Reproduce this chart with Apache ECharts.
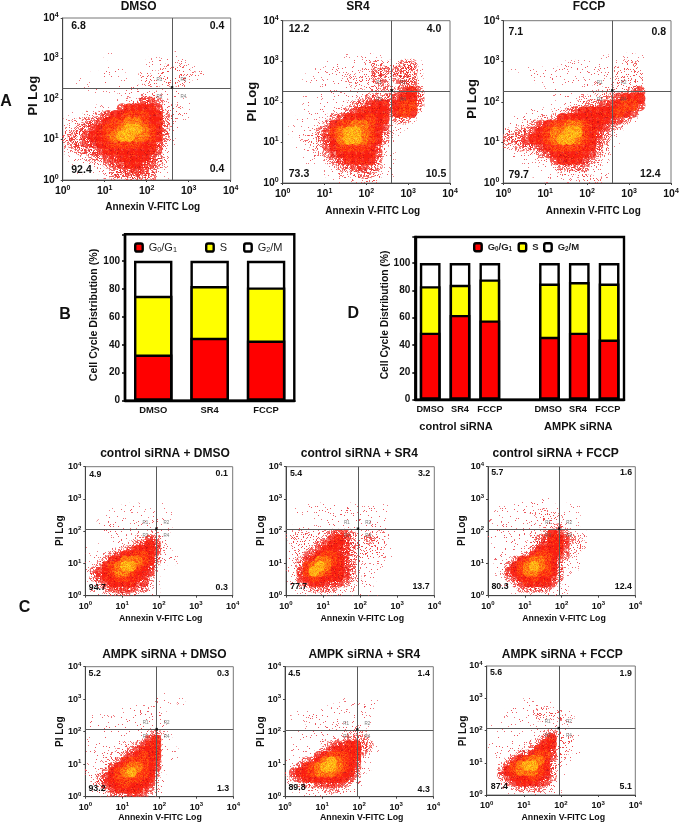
<!DOCTYPE html>
<html><head><meta charset="utf-8">
<style>html,body{margin:0;padding:0;background:#fff}#c{width:683px;height:825px;filter:blur(0.3px)}</style>
<script src="https://cdn.jsdelivr.net/npm/echarts@6/dist/echarts.min.js"></script>
</head><body><div id="c"></div>
<script>
// ---------- values ----------
const decadeTicks = [0, 1, 2, 3, 4];
const barCatsB = ['DMSO', 'SR4', 'FCCP'];
const g0g1B = [33, 45, 43];
const sPhaseB = [42, 37, 38];
const g2mB = [25, 18, 19];
const barCatsD = ['DMSO', 'SR4', 'FCCP', ' ', 'DMSO ', 'SR4 ', 'FCCP '];
const g0g1D = [49, 62, 58, '-', 46, 49, 44];
const sPhaseD = [34, 22, 30, '-', 39, 37, 41];
const g2mD = [17, 16, 12, '-', 15, 14, 15];
const flowTitles = ['DMSO', 'SR4', 'FCCP', 'control siRNA + DMSO', 'control siRNA + SR4', 'control siRNA + FCCP', 'AMPK siRNA + DMSO', 'AMPK siRNA + SR4', 'AMPK siRNA + FCCP'];
const upperLeft = ['6.8', '12.2', '7.1', '4.9', '5.4', '5.7', '5.2', '4.5', '5.6'];
const upperRight = ['0.4', '4.0', '0.8', '0.1', '3.2', '1.6', '0.3', '1.4', '1.9'];
const lowerLeft = ['92.4', '73.3', '79.7', '94.7', '77.7', '80.3', '93.2', '89.8', '87.4'];
const lowerRight = ['0.4', '10.5', '12.4', '0.3', '13.7', '12.4', '1.3', '4.3', '5.1'];
const gateX = [400, 404, 398, 85, 87.5, 86, 85, 89, 87];
const gateY = [187, 185, 185, 115, 115, 115, 115, 113, 114];
// Density levels (0 empty .. 8 yellow core) read per cell: 6 cells per decade,
// rows run from PI = 10^3.5 downward, columns from Annexin = 10^0 rightward.
const densityDmso = ['', '', '00000010000000001', '000000000000111111', '0000001110001122221', '00001111000222222222', '001011111112222222', '00011111111111111', '00000000111222111', '000000011224432111', '000011114555542221', '011223455666553221', '12233456677655321', '22334566788765311', '2334556788776531', '2334455666655421', '123334555555542', '012233445555432', '011122344554432', '001012233444321', '000001233333321'];
const densitySr4 = ['', '', '000000000111110', '00000011111122222331', '00001111111223323332', '00011111122223223332', '00001111112222322332', '00000111111122223453', '00010111111233334553', '00011111123345535663', '00011112234555535652', '0011112345556552332', '011112356677654211', '01112346788765321', '0012234578876531', '0011224566665421', '0001123455555421', '0001112345555311', '0000011233443311', '0000001122233211', '000000011122221'];
const densityFccp = ['', '', '00000000000000100111', '00000000111111111221', '01011111111111112222', '00011111111111112222', '00000011111112112222', '00000001111111222234', '00000000111222234555', '00000001112233445664', '00011112234555556542', '0111122355555554432', '112234566776554321', '22334567788654321', '33345567887654311', '2233345666655321', '0112234555554321', '011112245554321', '000101123333221', '000010112222111', '000000111112221'];
const densityCtlDmso = ['', '', '', '', '000000111000100', '00001111111111', '00011111111111', '0011111111111', '00111111111111', '0001111111221', '00010111224311', '01011112345421', '11011234555421', '011234556653111', '112355777653111', '1235678865421', '234567765541', '234556655431', '123455554421', '122344443321', '011223322211'];
const densityCtlSr4 = ['', '', '', '00000001', '00011111111111111', '01111111111111111', '0000111111111111', '0000001111111111', '0111111111111111', '12222223443222221', '22222234543223221', '12222345543222221', '12223455443222221', '12234566543222221', '1134577654322221', '1236787554321111', '124687655432111', '124565555432111', '11345544432211', '01123333222111', '001112222111111'];
const densityCtlFccp = ['', '', '', '0000011111', '001111111111111', '011111122221111', '001111112222111', '101111112222111', '11111111122321', '1111111223543211', '1111111234554321', '0111112234554222', '0111112355553221', '0111123566543211', '011235677653211', '011356787653211', '01245677665311', '0013455655431', '0011345555421', '0001133333211', '0000111222111'];
const densityAmpkDmso = ['', '', '00000000000110', '00000000000111010', '0000001111111', '0000001111111', '1111111111111', '1111111111111', '1111111111111', '01111111112321', '11111111124521', '11111122345511', '111112234555111', '011122345655111', '01122356665411', '11124567765411', '1123567866531', '1134566665521', '0234556555421', '0123455554321', '0122333443211'];
const densityAmpkSr4 = ['', '', '', '000000000111001', '000000011000111', '0011111111111', '10011111111111', '00001111111111', '0001111111121', '00111111112221', '011111112233321', '011111234455331', '011112345555321', '011124566655211', '11234578765421', '12356788765411', '2455677765531', '1345555555421', '1123344443211', '011122232211', '000111111111'];
const densityAmpkFccp = ['', '', '', '000000111', '00001111111', '00011111222211', '00011111222221', '11111111111111', '000000001111', '11111111123221', '111111112352221', '111111123552221', '011111235542221', '011113356642211', '00124567753211', '0024678865321', '0035677765311', '003455565431', '001345554421', '001123333221', '000111122111'];
const densityMaps = [densityDmso, densitySr4, densityFccp, densityCtlDmso, densityCtlSr4, densityCtlFccp, densityAmpkDmso, densityAmpkSr4, densityAmpkFccp];

// ---------- layout (pixels) ----------
const FONT = '"Liberation Sans", Arial, sans-serif';
const rects = [
  [62.7, 18, 168, 162], [282.7, 20.7, 167.3, 162.3], [503.3, 20.7, 167.7, 162.3],
  [85.3, 466.7, 147.4, 129], [286, 466.7, 148.3, 129], [488, 466.7, 147.3, 129],
  [85.3, 666.7, 148, 130], [285, 666.7, 148.3, 130], [486.7, 666, 148.6, 129]
];
const titlePos = [[138.7, 7], [358, 7], [589, 7], [165, 453.3], [359.3, 453.3], [555.7, 453.3], [164.3, 654.3], [364.3, 654.3], [562.3, 654.3]];
const xNamePos = [[152.7, 207], [372.7, 211], [593.3, 211], [160.7, 618.3], [362.3, 618.3], [564, 619], [160, 817.7], [361.7, 817.7], [563.3, 817.7]];
const yNamePos = [[33.3, 95.7], [252.7, 101.7], [472.7, 99], [60, 530.7], [261, 530.7], [462.7, 530.7], [60, 731.7], [261, 731.7], [463, 731]];
const pctPos = [
  [[78.5, 26], [217, 26], [81.5, 170.5], [217, 169]],
  [[299, 29.3], [434, 29.3], [299, 174], [436, 174]],
  [[515.7, 31.7], [658.7, 31.7], [518.7, 175], [650.3, 174]],
  [[95.3, 474.7], [221.7, 474], [97.3, 587.3], [221.7, 587.3]],
  [[296, 473.7], [424, 473.7], [298.7, 587], [421, 587]],
  [[497.3, 473], [626, 473], [500, 587], [623.3, 587]],
  [[94.7, 674], [223, 674], [97, 788.7], [223, 788.7]],
  [[294.3, 674], [423.7, 674], [297, 788], [423.7, 789.7]],
  [[496, 673], [625.7, 673.7], [499.3, 787], [625.7, 787]]
];

// ---------- speckle textures for the density levels (texture only, not data) ----------
function speck(x, y, k) { const s = Math.sin(x * 127.1 + y * 311.7 + k * 74.7) * 43758.5453; return s - Math.floor(s); }
const levelInks = [null,
  [[.045, [232, 70, 80, .85]]],
  [[.14, [236, 60, 60, .9]]],
  [[.04, [205, 25, 30, 1]], [.36, [240, 45, 40, 1]], [.18, [250, 120, 110, .8]]],
  [[.06, [205, 25, 30, 1]], [.62, [246, 35, 25, 1]], [.20, [250, 100, 80, .9]]],
  [[.08, [205, 20, 20, 1]], [.80, [250, 30, 15, 1]], [.12, [255, 70, 20, 1]]],
  [[.10, [235, 30, 15, 1]], [.55, [255, 50, 15, 1]], [.35, [255, 90, 15, 1]]],
  [[.30, [255, 80, 15, 1]], [.55, [255, 125, 15, 1]], [.15, [255, 165, 20, 1]]],
  [[.25, [255, 140, 15, 1]], [.60, [255, 185, 20, 1]], [.15, [255, 215, 30, 1]]]
];
const levelOpacity = [0, .85, .85, .72, .78, .88, .9, .9, .9];
function makeTile(level) {
  const n = 131, cv = document.createElement('canvas'); cv.width = cv.height = n;
  const g = cv.getContext('2d'), im = g.createImageData(n, n);
  for (let y = 0; y < n; y++) for (let x = 0; x < n; x++) {
    let r = speck(x, y, level), acc = 0;
    for (const [p, c] of levelInks[level]) {
      acc += p;
      if (r < acc) { const i = (y * n + x) * 4; im.data[i] = c[0]; im.data[i + 1] = c[1]; im.data[i + 2] = c[2]; im.data[i + 3] = c[3] * 255; break; }
    }
  }
  g.putImageData(im, 0, 0);
  return { image: cv, repeat: 'repeat' };
}
const tiles = levelInks.map((v, i) => i ? makeTile(i) : null);

function densityPoints(rows) {
  const pts = [];
  rows.forEach((row, j) => {
    for (let c = 0; c < row.length; c++) {
      const lv = +row[c];
      if (lv > 0) pts.push([Math.pow(10, (c + .5) / 6), Math.pow(10, 3.5 - (j + .5) / 6), lv, c, j]);
    }
  });
  return pts.sort((a, b) => a[2] - b[2]);
}

// ---------- build option ----------
const grids = [], xAxes = [], yAxes = [], series = [], gfx = [];
function text(t, x, y, size, opt) {
  opt = opt || {};
  gfx.push({ type: 'text', x: x, y: y, rotation: opt.rot || 0, silent: true, z: 20,
    style: { text: t, x: 0, y: 0, align: 'center', verticalAlign: 'middle', fill: opt.fill || '#111',
      font: (opt.normal ? '' : 'bold ') + size + 'px ' + FONT } });
}
flowTitles.forEach((ttl, i) => {
  const big = i < 3, r = rects[i];
  const main = big ? 10.5 : 9, sup = big ? 7 : 6;
  grids.push({ left: r[0], top: r[1], width: r[2], height: r[3], show: true, backgroundColor: 'transparent', borderColor: '#777', borderWidth: 1 });
  const axisBase = {
    gridIndex: i, type: 'log', logBase: 10, min: 1, max: 10000, splitLine: { show: false }, minorTick: { show: false },
    axisLine: { show: true, onZero: false, lineStyle: { color: '#444', width: 1 } },
    axisTick: { show: true, length: 2, lineStyle: { color: '#444' } }
  };
  const lab = (m) => ({
    margin: m, color: '#111', fontFamily: FONT,
    formatter: v => '{b|10}{s|' + decadeTicks[Math.round(Math.log10(v))] + '}',
    rich: { b: { fontSize: main, fontWeight: 'bold', fontFamily: FONT, color: '#111' },
            s: { fontSize: sup, fontWeight: 'bold', fontFamily: FONT, color: '#111', verticalAlign: 'bottom', padding: [0, 0, big ? 6 : 5, 0] } }
  });
  xAxes.push(Object.assign({}, axisBase, { axisLabel: lab(5) }));
  yAxes.push(Object.assign({}, axisBase, { axisLabel: lab(4) }));
  series.push({
    type: 'custom', name: ttl + ' density', xAxisIndex: i, yAxisIndex: i, clip: true, silent: true, z: 2,
    coordinateSystem: 'cartesian2d', encode: { x: 0, y: 1 }, data: densityPoints(densityMaps[i]),
    renderItem: (p, api) => {
      const a = api.coord([api.value(0), api.value(1)]), lv = api.value(2);
      return { type: 'circle', shape: { cx: a[0], cy: a[1], r: r[2] / 24 * (lv < 3 ? .72 : .85) }, style: { fill: tiles[lv], opacity: levelOpacity[lv] } };
    }
  });
  const vx = gateX[i], hy = gateY[i];
  const off = (v, d) => v * Math.pow(10, d);
  const rLab = [['R1', -.3, .2], ['R2', .27, .2], ['R3', -.3, -.21], ['R4', .27, -.21]];
  series.push({
    type: 'scatter', name: ttl + ' gates', xAxisIndex: i, yAxisIndex: i, silent: true, z: 5, symbolSize: 0,
    data: rLab.map(q => ({ name: q[0], value: [off(vx, q[1]), off(hy, q[2])] })),
    label: { show: true, position: 'inside', formatter: '{b}', fontSize: 4.5, color: '#555', fontFamily: FONT },
    markLine: { silent: true, symbol: 'none', animation: false, label: { show: false },
      lineStyle: { color: '#5a5a5a', width: 1, type: 'solid' }, emphasis: { disabled: true },
      data: [{ xAxis: vx }, { yAxis: hy }] }
  });
  series.push({
    type: 'scatter', name: ttl + ' gate origin', xAxisIndex: i, yAxisIndex: i, silent: true, z: 6, symbol: 'rect', symbolSize: 2.5,
    itemStyle: { color: '#000' }, data: [[vx, hy * 1.04]]
  });
  text(ttl, titlePos[i][0], titlePos[i][1], 12);
  text('Annexin V-FITC Log', xNamePos[i][0], xNamePos[i][1], big ? 10 : 8.8);
  text('PI Log', yNamePos[i][0], yNamePos[i][1], big ? 13 : 10, { rot: Math.PI / 2 });
  [upperLeft, upperRight, lowerLeft, lowerRight].forEach((arr, q) => {
    text(arr[i], pctPos[i][q][0], pctPos[i][q][1], big ? 10.5 : 8.8);
  });
});

const num = v => (v === '-' ? 0 : v);
function barChart(g, rect, cats, maxV, vals, barW, labelSize) {
  grids.push({ left: rect[0], top: rect[1], width: rect[2], height: rect[3], show: true, backgroundColor: 'transparent', borderColor: '#000', borderWidth: 2.4 });
  xAxes.push({ gridIndex: g, type: 'category', data: cats,
    axisLine: { lineStyle: { color: '#000', width: 2.4 } },
    axisTick: { alignWithLabel: true, length: 3, lineStyle: { color: '#000', width: 1.5 } },
    axisLabel: { interval: 0, margin: 5, fontSize: labelSize, fontWeight: 'bold', color: '#111', fontFamily: FONT } });
  yAxes.push({ gridIndex: g, type: 'value', min: 0, max: maxV, interval: 20, splitLine: { show: false },
    axisLine: { show: true, lineStyle: { color: '#000', width: 2.4 } },
    axisTick: { show: true, length: 3, lineStyle: { color: '#000', width: 1.5 } },
    axisLabel: { margin: 5, fontSize: 10, fontWeight: 'bold', color: '#111', fontFamily: FONT, formatter: v => v > 100 ? '' : v } });
  // Stack drawn back to front so adjoining segments share one black outline.
  const top = (k) => vals[0].map((v, c) => v === '-' ? '-' : vals.slice(0, k + 1).reduce((s, a) => s + num(a[c]), 0));
  [['G2/M', '#ffffff', top(2)], ['S', '#ffff00', top(1)], ['G0/G1', '#ff0000', top(0)]].forEach(s => {
    series.push({ type: 'bar', name: s[0], xAxisIndex: g, yAxisIndex: g, barGap: '-100%', barWidth: barW, data: s[2], silent: true,
      itemStyle: { color: s[1], borderColor: '#000', borderWidth: 2.4 } });
  });
}
barChart(9, [125, 234.3, 169.3, 166.4], barCatsB, 119, [g0g1B, sPhaseB, g2mB], 38.4, 9.4);
barChart(10, [415.3, 237, 208.7, 162.7], barCatsD, 119, [g0g1D, sPhaseD, g2mD], 20.7, 9.2);

function legendItem(name, left, top, size, bold) {
  const w = bold ? 'bold' : 'normal';
  const fm = { 'G0/G1': '{t|G}{s|0}{t|/G}{s|1}', 'S': '{t|S}', 'G2/M': '{t|G}{s|2}{t|/M}' };
  return { data: [name], left: left, top: top, selectedMode: false, padding: 0, icon: 'roundRect',
    itemWidth: 7.5, itemHeight: 8, itemGap: 5,
    itemStyle: { borderColor: '#000', borderWidth: 2.4 },
    formatter: n => fm[n],
    textStyle: { padding: [0, 0, 0, 1], rich: {
      t: { fontSize: size, fontWeight: w, color: '#222', fontFamily: FONT },
      s: { fontSize: size * .66, fontWeight: w, color: '#222', fontFamily: FONT, verticalAlign: 'top', padding: [5, 0, 0, 0] } } } };
}
const legends = [
  legendItem('G0/G1', 134, 242, 11, false), legendItem('S', 205, 242, 11, false), legendItem('G2/M', 243, 242, 11, false),
  legendItem('G0/G1', 473, 242, 9.5, true), legendItem('S', 517.5, 242, 9.5, true), legendItem('G2/M', 543, 242, 9.5, true)
];

text('A', 6, 101.7, 16); text('B', 65, 314.3, 16); text('C', 24.5, 607.7, 16); text('D', 353.3, 313.7, 16);
text('Cell Cycle Distribution (%)', 94, 315, 10.6, { rot: Math.PI / 2 });
text('Cell Cycle Distribution (%)', 384.7, 315, 10.3, { rot: Math.PI / 2 });
text('control siRNA', 456, 427, 11);
text('AMPK siRNA', 578.3, 427, 11);

const chart = echarts.init(document.getElementById('c'), null, { width: 683, height: 825, renderer: 'canvas' });
chart.setOption({ animation: false, backgroundColor: '#fff', grid: grids, xAxis: xAxes, yAxis: yAxes, legend: legends, series: series, graphic: { elements: gfx } });
</script></body></html>
